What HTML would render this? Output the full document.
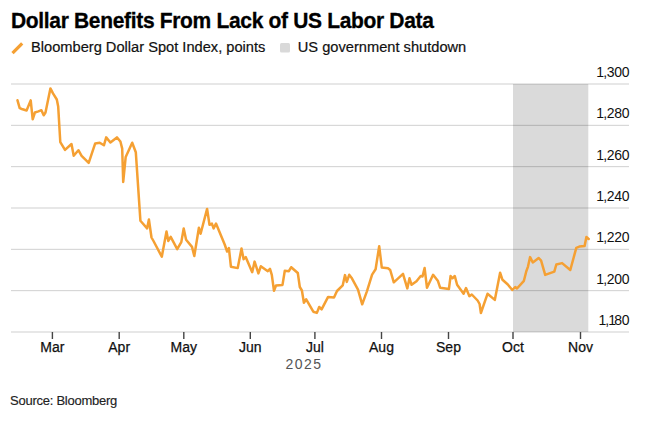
<!DOCTYPE html>
<html><head><meta charset="utf-8">
<style>
html,body{margin:0;padding:0;background:#fff;}
body{width:650px;height:423px;position:relative;overflow:hidden;font-family:"Liberation Sans",sans-serif;color:#000;}
.t{position:absolute;white-space:nowrap;line-height:1;}
#title{left:11px;top:9.5px;font-size:21px;font-weight:bold;letter-spacing:-0.33px;color:#000;-webkit-text-stroke:0.3px #000;transform:scaleY(1.08);transform-origin:0 19px;}
.leg{font-size:14.65px;color:#111;-webkit-text-stroke:0.2px #111;}
.yl{font-size:14px;color:#111;text-align:right;right:20.8px;letter-spacing:-0.3px;}
.xl{font-size:14px;color:#111;width:60px;text-align:center;-webkit-text-stroke:0.25px #111;}
svg{position:absolute;left:0;top:0;}
</style></head><body>
<svg width="650" height="423" viewBox="0 0 650 423">
<rect x="513" y="84" width="75.3" height="248" fill="#dadada"/>
<g stroke="#000" stroke-opacity="0.19" stroke-width="1" fill="none">
<line x1="11" y1="84.0" x2="629" y2="84.0"/>
<line x1="11" y1="125.33" x2="629" y2="125.33"/>
<line x1="11" y1="166.67" x2="629" y2="166.67"/>
<line x1="11" y1="208.0" x2="629" y2="208.0"/>
<line x1="11" y1="249.33" x2="629" y2="249.33"/>
<line x1="11" y1="290.67" x2="629" y2="290.67"/>
<line x1="11" y1="332" x2="629" y2="332"/>
</g>
<polyline points="17.5,100.3 19.7,108.2 21.8,109 26.6,110.5 30.7,100.4 32.7,119.3 34.9,112.5 38.4,111.4 41.4,110.2 43.7,115.3 45.5,112.5 50.4,88.4 53,93.4 56.8,99.5 58.2,106.6 60.3,142.2 65,149.9 71.5,144 73.7,155.8 78.4,150.2 81.6,155.8 88.7,162.9 95.2,143.4 99.7,142.7 103.9,145.3 106.2,137.4 110.4,142.5 116.9,137.4 120.4,141.5 122.2,148.6 123.2,182 125.7,156.9 132.2,142.7 135.8,152.2 140.4,220.7 147.1,228.4 148.9,219.5 151.5,237.5 153.5,241 161.8,256.7 166.5,231.5 168.3,241 170.7,236.8 177.2,249.2 181.3,242.1 183.7,228.5 186.1,239.8 192,246.9 194.3,256 198.9,227.8 200.6,233.7 207.1,208.9 209.5,224.8 211.9,223.6 213.6,228.4 216,223.6 224.7,244.5 227.1,251.5 228.9,248 230.9,266.7 237.7,268.1 241.5,248.6 243.6,259.2 245.8,257.2 252.2,272.2 254.6,261.6 258.4,273.4 260.8,266.3 267.8,271.2 270,268.9 271.8,274.8 274,290.8 276,285.5 282.5,284.9 284.8,270.7 288.9,271.2 291.2,267.2 297.8,273 299.8,287 301.9,290.5 303.9,302.8 306.2,299.3 313.3,311.7 316.9,312.9 319.2,307 321.6,309.3 328.1,296.9 334,297.5 337,291 342.7,285.4 345,275.1 346.8,281.9 349.2,274.8 351.5,277.7 358,289.6 362.2,304.3 366.9,291.3 372.1,274.6 375.6,269.3 379.2,246.2 381.8,267.6 388,268.2 390.2,270 393.8,282.3 403,273.8 407.3,288.4 409.5,278.3 411.6,284.8 416.5,281.3 420.7,276 422.5,276.5 424.6,268 427,287.8 433.1,274.8 437.8,280.7 440.2,287.8 448.9,289 450.6,276 452.4,278.3 454.8,276 457.1,284.8 463.6,293.7 466,288.1 469.4,296.2 471.8,294.5 477.6,300.5 479.6,304 480.9,313 487.5,293.8 494.8,299.9 500.1,272.7 502.5,279.8 507.8,284.5 512.3,290 515.2,287 517,288.5 523.9,280.8 526.3,271.3 528,266.6 530.1,257.1 532.8,262.5 538.7,258 541.1,260.7 545.2,274.9 554.3,271.6 556.3,264.5 562.1,263.1 570.3,270 576.3,247.8 579.3,246.6 584.6,246 586.4,237.1 588.7,238.9" fill="none" stroke="#f5a033" stroke-width="2.5" stroke-linejoin="round" stroke-linecap="round"/>
<g stroke="#444" stroke-width="1.4">
<line x1="52.4" y1="332" x2="52.4" y2="339"/>
<line x1="119.2" y1="332" x2="119.2" y2="339"/>
<line x1="183.8" y1="332" x2="183.8" y2="339"/>
<line x1="250.3" y1="332" x2="250.3" y2="339"/>
<line x1="314.9" y1="332" x2="314.9" y2="339"/>
<line x1="381.5" y1="332" x2="381.5" y2="339"/>
<line x1="448.5" y1="332" x2="448.5" y2="339"/>
<line x1="513" y1="332" x2="513" y2="339"/>
<line x1="580.5" y1="332" x2="580.5" y2="339"/>
</g>
<line x1="12.5" y1="53.2" x2="22.2" y2="43.3" stroke="#f5a033" stroke-width="3.2"/>
<rect x="280" y="43" width="10" height="9.6" rx="1.5" fill="#d9d9d9"/>
</svg>
<div class="t" id="title">Dollar Benefits From Lack of US Labor Data</div>
<div class="t leg" style="left:31px;top:39.5px">Bloomberg Dollar Spot Index, points</div>
<div class="t leg" style="left:297.8px;top:39.5px">US government shutdown</div>
<div class="t yl" style="top:64.75px"><span style="margin-right:-0.7px">1</span>,300</div>
<div class="t yl" style="top:105.75px"><span style="margin-right:-0.7px">1</span>,280</div>
<div class="t yl" style="top:147.80px"><span style="margin-right:-0.7px">1</span>,260</div>
<div class="t yl" style="top:188.75px"><span style="margin-right:-0.7px">1</span>,240</div>
<div class="t yl" style="top:229.90px"><span style="margin-right:-0.7px">1</span>,220</div>
<div class="t yl" style="top:271.75px"><span style="margin-right:-0.7px">1</span>,200</div>
<div class="t yl" style="top:312.75px"><span style="margin-right:-0.7px">1</span>,<span style="margin-right:-1.6px;margin-left:-0.6px">1</span>80</div>
<div class="t xl" style="left:22.4px;top:340px">Mar</div>
<div class="t xl" style="left:89.2px;top:340px">Apr</div>
<div class="t xl" style="left:153.8px;top:340px">May</div>
<div class="t xl" style="left:220.3px;top:340px">Jun</div>
<div class="t xl" style="left:284.9px;top:340px">Jul</div>
<div class="t xl" style="left:351.5px;top:340px">Aug</div>
<div class="t xl" style="left:418.5px;top:340px">Sep</div>
<div class="t xl" style="left:483px;top:340px">Oct</div>
<div class="t xl" style="left:550.5px;top:340px">Nov</div>
<div class="t" style="left:285.5px;top:357px;font-size:14px;color:#555;letter-spacing:1.45px">2025</div>
<div class="t" style="left:10px;top:394px;font-size:13px;color:#222;letter-spacing:-0.25px;-webkit-text-stroke:0.15px #222">Source: Bloomberg</div>
</body></html>
